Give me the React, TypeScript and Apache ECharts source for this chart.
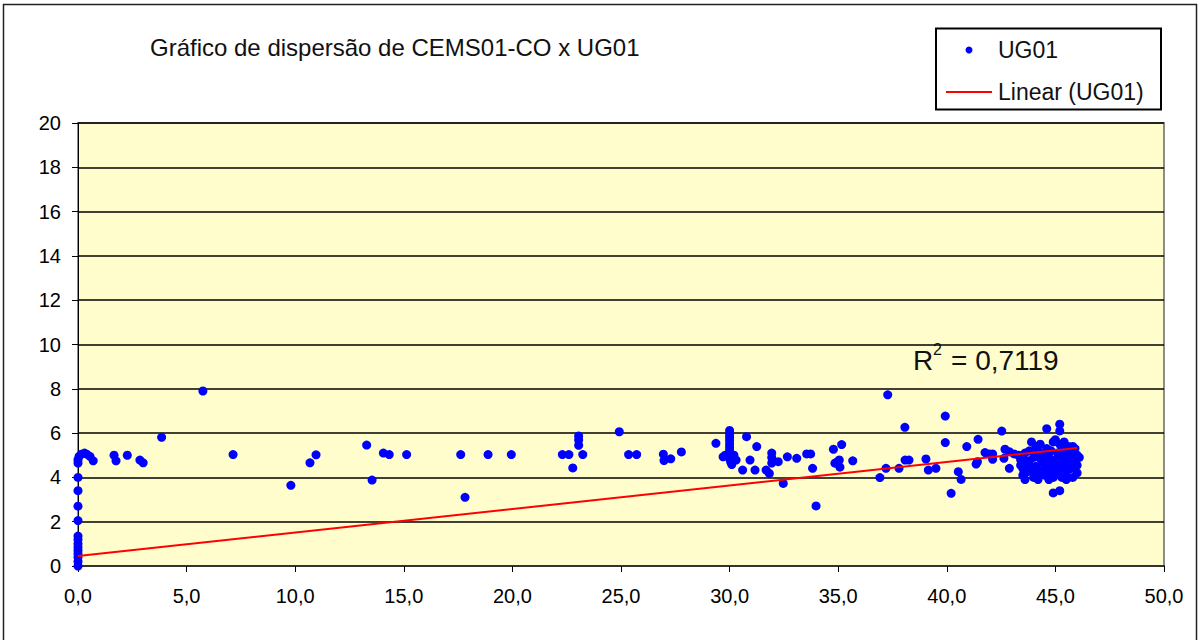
import React, { useEffect, useRef } from "react";
import * as echarts from "echarts";

const chartTitle = "Gráfico de dispersão de CEMS01-CO x UG01";
const seriesName = "UG01";
const trendName = "Linear (UG01)";
const r2Value = "0,7119";

const xTicks = [0, 5, 10, 15, 20, 25, 30, 35, 40, 45, 50];
const yTicks = [0, 2, 4, 6, 8, 10, 12, 14, 16, 18, 20];

// UG01 points: [CEMS01-CO, UG01]
const zeroEdgePoints: number[][] = [
  [0, 0], [0, 0.2], [0, 0.4], [0, 0.55], [0, 0.7], [0, 0.85], [0, 1.0], [0, 1.2], [0, 1.35],
  [0, 2.05], [0, 2.7], [0, 3.4], [0, 4.0], [0, 4.65], [0, 4.8], [0.05, 4.95], [0.15, 5.05],
  [0.3, 5.1], [0.4, 5.05], [0.55, 4.95], [0.7, 4.75],
];
const lowRangePoints: number[][] = [
  [1.66, 5.0], [1.75, 4.75], [2.27, 5.0], [2.85, 4.78], [3.0, 4.66], [3.85, 5.81], [5.75, 7.9],
  [7.14, 5.03], [9.8, 3.64], [10.68, 4.66], [10.96, 5.02], [13.29, 5.46], [13.54, 3.88],
  [14.06, 5.1], [14.33, 5.03], [15.13, 5.03], [17.62, 5.03], [17.82, 3.1], [18.88, 5.03],
  [19.95, 5.03], [22.3, 5.03], [22.6, 5.03], [22.78, 4.43], [23.05, 5.87], [23.05, 5.69],
  [23.05, 5.45], [23.24, 5.03], [24.92, 6.06], [25.35, 5.03], [25.72, 5.03], [26.95, 5.05],
  [26.98, 4.76], [27.29, 4.84], [27.78, 5.15],
];
const midRangePoints: number[][] = [
  [29.37, 5.54], [30.0, 6.12], [30.0, 5.95], [30.0, 5.8], [30.0, 5.65], [30.0, 5.5], [30.0, 5.35],
  [30.0, 5.2], [29.8, 5.0], [29.7, 4.93], [30.2, 5.0], [30.3, 4.78], [30.0, 4.85], [30.05, 4.7],
  [30.1, 4.58], [30.78, 5.84], [30.6, 4.33], [30.94, 4.78], [31.17, 4.33], [31.25, 5.39],
  [31.68, 4.33], [31.83, 4.18], [31.94, 5.1], [31.94, 4.9], [31.94, 4.65], [32.24, 4.71],
  [32.47, 3.73], [32.66, 4.93], [33.09, 4.86], [33.55, 5.06], [33.73, 5.06], [33.82, 4.41],
  [33.98, 2.71], [34.78, 5.27], [35.16, 5.48], [34.85, 4.64], [35.05, 4.79], [35.08, 4.46],
  [34.95, 4.7], [35.67, 4.75],
];
const highRangePoints: number[][] = [
  [36.92, 3.99], [37.2, 4.41], [37.28, 7.73], [37.8, 4.41], [38.07, 6.26], [38.08, 4.78],
  [38.26, 4.78], [39.04, 4.83], [39.15, 4.33], [39.5, 4.41], [39.93, 6.77], [39.93, 5.57],
  [40.2, 3.28], [40.53, 4.26], [40.66, 3.91], [40.92, 5.39], [41.35, 4.6], [41.41, 4.71],
  [41.44, 5.72], [41.76, 5.12], [41.96, 5.06], [42.11, 5.06], [42.11, 4.82], [42.53, 6.09],
  [42.68, 5.27], [42.88, 5.16], [42.63, 4.86], [42.88, 4.41], [43.1, 5.06],
];
const clusterPoints: number[][] = [
  [43.3, 5.0], [43.4, 4.8], [43.5, 4.4], [43.5, 4.1], [43.6, 3.9], [43.7, 4.6], [43.8, 5.2],
  [43.9, 4.3], [44.0, 4.0], [44.0, 4.9], [44.1, 5.4], [44.1, 4.5], [44.2, 4.2], [44.2, 3.9],
  [44.3, 5.5], [44.3, 5.1], [44.4, 4.7], [44.4, 4.3], [44.5, 5.0], [44.5, 4.1], [44.6, 6.2],
  [44.6, 5.3], [44.6, 4.6], [44.7, 3.9], [44.7, 4.9], [44.8, 5.2], [44.8, 4.4], [44.9, 5.6],
  [44.9, 4.0], [44.9, 3.3], [45.0, 5.7], [45.0, 4.8], [45.0, 4.5], [45.1, 5.1], [45.1, 4.2],
  [45.2, 6.4], [45.2, 6.1], [45.2, 5.5], [45.2, 4.7], [45.2, 3.4], [45.3, 5.3], [45.3, 4.9],
  [45.3, 4.0], [45.4, 5.6], [45.4, 4.4], [45.5, 5.2], [45.5, 4.7], [45.5, 3.9], [45.6, 5.4],
  [45.6, 4.5], [45.6, 4.0], [45.7, 5.1], [45.7, 4.4], [45.8, 4.9], [45.8, 4.0], [45.9, 5.3],
  [45.9, 4.6], [46.0, 5.0], [46.1, 4.9], [46.0, 4.2], [43.9, 5.6], [44.2, 5.2], [43.6, 5.1],
  [43.4, 4.55], [43.7, 4.25], [43.8, 4.75], [44.0, 4.45], [44.3, 4.85], [44.5, 4.55],
  [44.7, 4.25], [44.8, 4.75], [45.0, 4.1], [45.1, 4.6], [45.3, 4.45], [45.4, 4.9],
  [45.5, 4.3], [45.7, 4.75], [45.8, 5.4], [46.0, 4.55], [43.5, 4.9], [44.1, 4.1],
];
// Linear trend line end points
const trendPoints: number[][] = [[0, 0.45], [46.0, 5.33]];

const FONT = "'Liberation Sans', Arial, sans-serif";

export default function App() {
  const ref = useRef<HTMLDivElement>(null);
  useEffect(() => {
    if (!ref.current) return;
    const chart = echarts.init(ref.current, undefined, { renderer: "svg" });
    const allPoints = [
      ...zeroEdgePoints,
      ...lowRangePoints,
      ...midRangePoints,
      ...highRangePoints,
      ...clusterPoints,
    ];
    chart.setOption({
      animation: false,
      backgroundColor: "#ffffff",
      textStyle: { fontFamily: FONT },
      title: {
        text: chartTitle,
        left: 145,
        top: 30,
        textStyle: { fontFamily: FONT, fontSize: 24, fontWeight: "normal", color: "#111" },
      },
      grid: {
        left: 78,
        right: 37,
        top: 123,
        bottom: 74,
        show: true,
        backgroundColor: "#FFFDCC",
        borderColor: "#8c8c8c",
        borderWidth: 2,
      },
      xAxis: {
        type: "value",
        min: xTicks[0],
        max: xTicks[xTicks.length - 1],
        interval: 5,
        axisLine: { show: true, lineStyle: { color: "#333", width: 2 } },
        axisTick: { show: true, length: 6, lineStyle: { color: "#000" } },
        splitLine: { show: false },
        axisLabel: {
          margin: 20,
          fontSize: 20,
          color: "#000",
          fontFamily: FONT,
          formatter: (v: number) => v.toFixed(1).replace(".", ","),
        },
      },
      yAxis: {
        type: "value",
        min: yTicks[0],
        max: yTicks[yTicks.length - 1],
        interval: 2,
        axisLine: { show: true, lineStyle: { color: "#000", width: 1 } },
        axisTick: { show: true, length: 6, lineStyle: { color: "#000" } },
        splitLine: { show: true, lineStyle: { color: "#000", width: 1.6 } },
        axisLabel: { margin: 17, fontSize: 20, color: "#000", fontFamily: FONT },
      },
      series: [
        {
          name: seriesName,
          type: "scatter",
          data: allPoints,
          symbol: "circle",
          symbolSize: 9,
          itemStyle: { color: "#0000FF", opacity: 1 },
          z: 3,
        },
        {
          name: trendName,
          type: "line",
          data: trendPoints,
          showSymbol: false,
          symbol: "none",
          lineStyle: { color: "#FF0000", width: 2 },
          z: 4,
        },
      ],
      graphic: [
        {
          type: "rect",
          shape: { x: 3.5, y: 4.5, width: 1193, height: 700 },
          style: { fill: "none", stroke: "#222", lineWidth: 1.5 },
          silent: true,
          z: 100,
        },
        {
          type: "rect",
          shape: { x: 936, y: 28.5, width: 225, height: 81 },
          style: { fill: "#fff", stroke: "#000", lineWidth: 2 },
          z: 100,
        },
        {
          type: "circle",
          shape: { cx: 969, cy: 50, r: 3.5 },
          style: { fill: "#0000FF" },
          z: 101,
        },
        {
          type: "line",
          shape: { x1: 946, y1: 92, x2: 992, y2: 92 },
          style: { stroke: "#FF0000", lineWidth: 2 },
          z: 101,
        },
        {
          type: "text",
          x: 998,
          y: 50,
          style: { text: seriesName, fontSize: 23, fontFamily: FONT, fill: "#111", verticalAlign: "middle" },
          z: 101,
        },
        {
          type: "text",
          x: 998,
          y: 92,
          style: { text: trendName, fontSize: 23, fontFamily: FONT, fill: "#111", verticalAlign: "middle" },
          z: 101,
        },
        {
          type: "text",
          x: 913,
          y: 360,
          style: { text: "R", fontSize: 28, fontFamily: FONT, fill: "#111", verticalAlign: "middle" },
          z: 101,
        },
        {
          type: "text",
          x: 933,
          y: 349,
          style: { text: "2", fontSize: 16, fontFamily: FONT, fill: "#111", verticalAlign: "middle" },
          z: 101,
        },
        {
          type: "text",
          x: 951,
          y: 360,
          style: { text: "= " + r2Value, fontSize: 28, fontFamily: FONT, fill: "#111", verticalAlign: "middle" },
          z: 101,
        },
      ],
    });
    return () => chart.dispose();
  }, []);
  return (
    <div
      ref={ref}
      style={{ position: "fixed", left: 0, top: 0, width: 1201, height: 640 }}
    />
  );
}
